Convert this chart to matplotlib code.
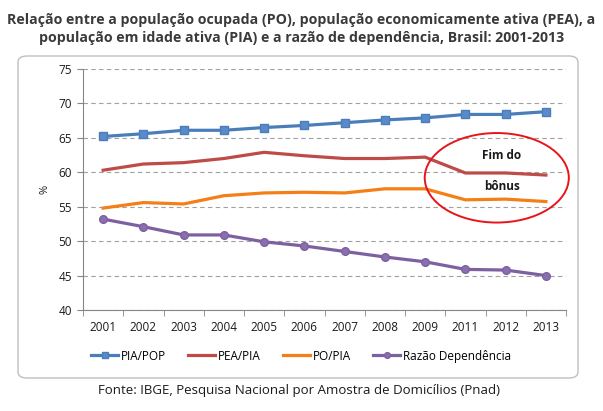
import matplotlib
matplotlib.use("Agg")
import matplotlib.pyplot as plt
from matplotlib.patches import FancyBboxPatch, Ellipse

years = ["2001", "2002", "2003", "2004", "2005", "2006", "2007", "2008", "2009", "2011", "2012", "2013"]
pia_pop = [65.2, 65.6, 66.1, 66.1, 66.5, 66.8, 67.2, 67.6, 67.9, 68.4, 68.4, 68.8]
pea_pia = [60.3, 61.2, 61.4, 62.0, 62.9, 62.4, 62.0, 62.0, 62.2, 59.9, 59.9, 59.6]
po_pia = [54.8, 55.6, 55.4, 56.6, 57.0, 57.1, 57.0, 57.6, 57.6, 56.0, 56.1, 55.75]
razao = [53.2, 52.1, 50.9, 50.9, 49.9, 49.3, 48.5, 47.7, 47.0, 45.9, 45.8, 45.0]
series_names = ["PIA/POP", "PEA/PIA", "PO/PIA", "Razão Dependência"]
title = "Relação entre a população ocupada (PO), população economicamente ativa (PEA), a\npopulação em idade ativa (PIA) e a razão de dependência, Brasil: 2001-2013"
source = "Fonte: IBGE, Pesquisa Nacional por Amostra de Domicílios (Pnad)"

plt.rcParams['font.family'] = ['Open Sans', 'DejaVu Sans']

fig = plt.figure(figsize=(6.03, 4.11), dpi=100)
fig.patch.set_facecolor("white")

# chart frame
frame = FancyBboxPatch((18/603, 1-378/411), (578-18)/603, (378-56)/411,
                       boxstyle="round,pad=0,rounding_size=0.015",
                       transform=fig.transFigure, facecolor="white",
                       edgecolor="#BFBFBF", linewidth=1.0, zorder=-5)
fig.patches.append(frame)

ax = fig.add_axes([83/603, 1-310/411, (566-83)/603, (310-69)/411])
ax.set_facecolor("none")
x = list(range(len(years)))

blue = "#4A7EBB"
red = "#BE4B48"
purple = "#7D60A0"

ax.plot(x, pia_pop, color=blue, lw=2.3, marker="s", ms=5.5, mfc="#5B8ACB", mec=blue, label=series_names[0], zorder=3)
ax.plot(x, pea_pia, color=red, lw=2.3, label=series_names[1], zorder=3)
ax.plot(x, po_pia, color="#F57F17", lw=2.3, label=series_names[2], zorder=3)
ax.plot(x, razao, color=purple, lw=2.3, marker="o", ms=5.5, mfc="#8A6FAE", mec=purple, label=series_names[3], zorder=3)

ax.set_ylim(40, 75)
ax.set_xlim(-0.5, len(years) - 0.5)
ax.set_yticks(range(40, 76, 5))
ax.set_xticks(x)
ax.set_xticklabels(years)
ax.set_xticks([i - 0.5 for i in range(len(years) + 1)], minor=True)
ax.tick_params(axis="x", which="major", length=0, pad=8, labelsize=8.5, labelcolor="#1a1a1a")
ax.tick_params(axis="x", which="minor", length=4, color="#868686", direction="out")
ax.tick_params(axis="y", length=4, color="#868686", labelsize=8.5, labelcolor="#1a1a1a", pad=4)
ax.grid(axis="y", linestyle=(0, (4, 3)), color="#A0A0A0", linewidth=0.8, zorder=0)
for s in ["top", "right"]:
    ax.spines[s].set_visible(False)
for s in ["left", "bottom"]:
    ax.spines[s].set_color("#868686")
ax.set_ylabel("%", fontsize=8, color="#1a1a1a", labelpad=6)

leg = fig.legend(loc="center", bbox_to_anchor=(301/603, 1-356/411), ncol=4, frameon=False,
                 fontsize=8.5, handlelength=2.3, handletextpad=0.2, columnspacing=1.9,
                 markerscale=0.75)

ell = Ellipse((9.78, 59.2), 3.58, 13.0, facecolor="none", edgecolor="#E8141B", lw=1.4, zorder=4, clip_on=False)
ax.add_patch(ell)
ax.text(9.9, 62.5, "Fim do", ha="center", va="center", fontsize=8.5, fontweight="bold", color="#1a1a1a", zorder=5)
ax.text(9.9, 58.0, "bônus", ha="center", va="center", fontsize=8.5, fontweight="bold", color="#1a1a1a", zorder=5)

fig.text(0.5, 1-29/411, title, ha="center", va="center", fontsize=10.2, fontweight="bold",
         color="#3a3a3a", linespacing=1.35)
fig.text(299/603, 1-390/411, source, ha="center", va="center", fontsize=9.5, color="#1a1a1a")

fig.savefig("out.png", dpi=100)
